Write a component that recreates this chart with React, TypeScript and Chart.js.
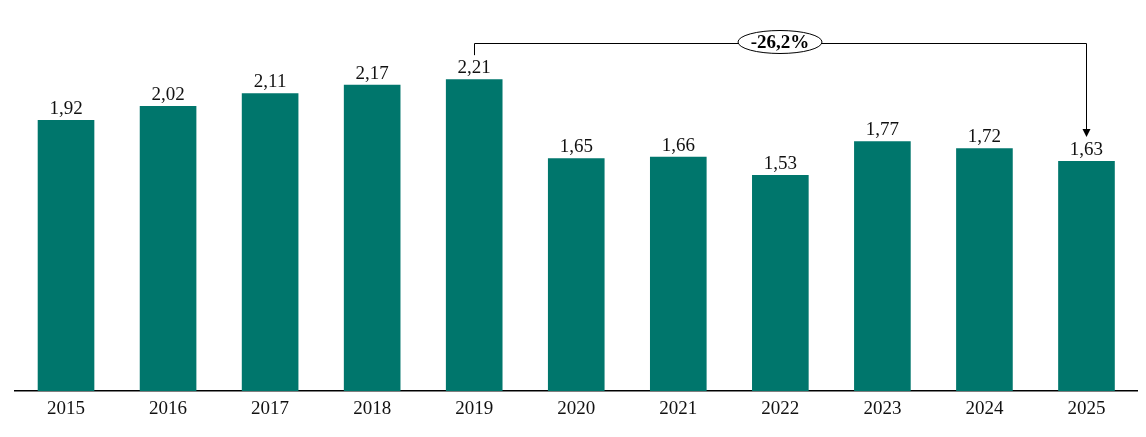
import React, { useEffect, useRef } from "react";
import { Chart, registerables } from "chart.js";

Chart.register(...registerables);

const categories = ["2015", "2016", "2017", "2018", "2019", "2020", "2021", "2022", "2023", "2024", "2025"];
const values = [1.92, 2.02, 2.11, 2.17, 2.21, 1.65, 1.66, 1.53, 1.77, 1.72, 1.63];
const changeLabel = "-26,2%";
const changeFrom = 4;
const changeTo = 10;

const FONT = "'Liberation Serif', 'DejaVu Serif', serif";
const TEAL = "#00766C";

const fmt = (v: number) => v.toFixed(2).replace(".", ",");

const labelsPlugin = {
  id: "valueLabels",
  afterDatasetsDraw(chart: any) {
    const { ctx } = chart;
    const meta = chart.getDatasetMeta(0);
    ctx.save();
    ctx.font = `19px ${FONT}`;
    ctx.fillStyle = "#111";
    ctx.textAlign = "center";
    ctx.textBaseline = "alphabetic";
    meta.data.forEach((bar: any, i: number) => {
      ctx.fillText(fmt(values[i]), bar.x, bar.y - 6);
    });
    ctx.restore();
  },
};

const bracketPlugin = {
  id: "bracket",
  afterDatasetsDraw(chart: any) {
    const { ctx } = chart;
    const xs = chart.scales.x;
    const ys = chart.scales.y;
    const x1 = Math.round(xs.getPixelForValue(changeFrom));
    const x2 = Math.round(xs.getPixelForValue(changeTo));
    const y1 = ys.getPixelForValue(values[changeFrom]) - 24;
    const yh = Math.round(ys.getPixelForValue(values[changeFrom]) - 36);
    const y2 = ys.getPixelForValue(values[changeTo]) - 24;
    ctx.save();
    ctx.strokeStyle = "#000";
    ctx.lineWidth = 1;
    ctx.beginPath();
    ctx.moveTo(x1 + 0.5, y1);
    ctx.lineTo(x1 + 0.5, yh + 0.5);
    ctx.lineTo(x2 + 0.5, yh + 0.5);
    ctx.lineTo(x2 + 0.5, y2 - 7);
    ctx.stroke();
    ctx.fillStyle = "#000";
    ctx.beginPath();
    ctx.moveTo(x2 - 4 + 0.5, y2 - 8);
    ctx.lineTo(x2 + 4 + 0.5, y2 - 8);
    ctx.lineTo(x2 + 0.5, y2);
    ctx.closePath();
    ctx.fill();
    const cx = (x1 + x2) / 2;
    const cy = yh - 1;
    ctx.beginPath();
    ctx.ellipse(cx, cy, 42, 11.5, 0, 0, Math.PI * 2);
    ctx.fillStyle = "#fff";
    ctx.fill();
    ctx.stroke();
    ctx.fillStyle = "#000";
    ctx.font = `bold 19px ${FONT}`;
    ctx.textAlign = "center";
    ctx.textBaseline = "middle";
    ctx.fillText(changeLabel, cx, cy + 1);
    ctx.restore();
  },
};

export default function App() {
  const ref = useRef<HTMLCanvasElement>(null);
  useEffect(() => {
    document.body.style.margin = "0";
    const chart = new Chart(ref.current!, {
      type: "bar",
      data: {
        labels: categories,
        datasets: [
          {
            data: values,
            backgroundColor: TEAL,
            barPercentage: 0.555,
            categoryPercentage: 1,
          },
        ],
      },
      options: {
        animation: false,
        responsive: false,
        maintainAspectRatio: false,
        layout: { padding: { left: 15, right: 8.5, top: 10, bottom: 0 } },
        plugins: { legend: { display: false }, tooltip: { enabled: false } },
        scales: {
          x: {
            grid: { display: false, drawTicks: false },
            border: { display: true, color: "#000", width: 1.5 },
            ticks: { color: "#111", font: { family: FONT, size: 19 }, padding: 7 },
            afterFit: (scale: any) => {
              scale.height = 46;
            },
          },
          y: {
            display: false,
            min: 0,
            max: 2.7,
          },
        },
      },
      plugins: [labelsPlugin, bracketPlugin],
    });
    return () => chart.destroy();
  }, []);
  return <canvas ref={ref} width={1146} height={437} style={{ display: "block" }} />;
}
